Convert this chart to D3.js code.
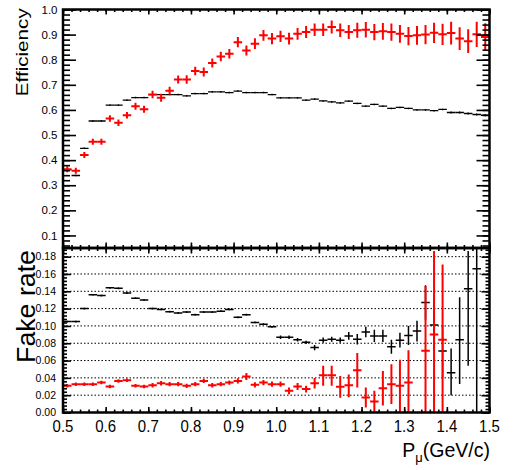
<!DOCTYPE html>
<html>
<head>
<meta charset="utf-8">
<script src="https://cdn.jsdelivr.net/npm/d3@7"></script>
<style>
  html, body { margin: 0; padding: 0; background: #fff; }
  svg { display: block; }
  text { font-family: "Liberation Sans", Arial, Helvetica, sans-serif; fill: #000; }
</style>
</head>
<body>
<svg id="chart" width="514" height="470"></svg>
<script>
// ---------------- DATA ----------------
const momentum = [0.51,0.53,0.55,0.57,0.59,0.61,0.63,0.65,0.67,0.69,
                  0.71,0.73,0.75,0.77,0.79,0.81,0.83,0.85,0.87,0.89,
                  0.91,0.93,0.95,0.97,0.99,1.01,1.03,1.05,1.07,1.09,
                  1.11,1.13,1.15,1.17,1.19,1.21,1.23,1.25,1.27,1.29,
                  1.31,1.33,1.35,1.37,1.39,1.41,1.43,1.45,1.47,1.49];
const binHalfWidth = 0.01;

// Efficiency (top panel)
const effBlack = [0.362,0.339,0.447,0.556,0.556,0.619,0.619,0.639,0.649,0.649,
                  0.661,0.661,0.661,0.661,0.656,0.665,0.665,0.672,0.672,0.669,
                  0.675,0.669,0.669,0.669,0.661,0.648,0.648,0.648,0.639,0.643,
                  0.636,0.632,0.628,0.635,0.626,0.615,0.622,0.615,0.606,0.610,
                  0.606,0.600,0.600,0.597,0.602,0.590,0.590,0.586,0.582,0.579];
const effBlackErr = [0.003,0.003,0.003,0.003,0.003,0.003,0.003,0.003,0.003,0.003,
                     0.003,0.003,0.003,0.003,0.003,0.003,0.003,0.003,0.003,0.003,
                     0.003,0.003,0.003,0.003,0.003,0.003,0.003,0.003,0.003,0.003,
                     0.003,0.003,0.003,0.003,0.003,0.003,0.003,0.003,0.003,0.003,
                     0.003,0.003,0.003,0.003,0.003,0.004,0.004,0.004,0.004,0.004];
const effRed = [0.364,0.358,0.420,0.473,0.473,0.566,0.549,0.579,0.615,0.603,
                0.661,0.648,0.676,0.721,0.721,0.755,0.751,0.787,0.813,0.824,
                0.870,0.837,0.864,0.897,0.884,0.893,0.884,0.903,0.910,0.919,
                0.919,0.930,0.917,0.910,0.917,0.919,0.910,0.913,0.910,0.903,
                0.894,0.897,0.900,0.907,0.901,0.906,0.884,0.874,0.901,0.890];
const effRedErr = [0.012,0.012,0.012,0.012,0.012,0.013,0.013,0.013,0.014,0.014,
                   0.015,0.015,0.016,0.016,0.017,0.017,0.018,0.018,0.019,0.019,
                   0.020,0.020,0.021,0.021,0.022,0.022,0.023,0.023,0.024,0.025,
                   0.025,0.026,0.027,0.028,0.030,0.031,0.032,0.033,0.034,0.035,
                   0.036,0.037,0.038,0.040,0.042,0.045,0.045,0.047,0.050,0.055];

// Fake rate (bottom panel)
const fakeBlack = [0.105,0.105,0.120,0.136,0.135,0.144,0.1435,0.138,0.132,0.130,
                   0.120,0.119,0.1165,0.115,0.116,0.113,0.116,0.116,0.117,0.119,
                   0.110,0.113,0.104,0.102,0.099,0.087,0.087,0.084,0.081,0.075,
                   0.0835,0.0846,0.0835,0.0885,0.0846,0.093,0.0885,0.0885,0.076,0.0835,
                   0.089,0.094,0.127,0.101,0.071,0.046,0.084,0.143,0.166,null];
const fakeBlackErrLo = [0.001,0.001,0.001,0.001,0.001,0.001,0.001,0.001,0.001,0.001,
                        0.001,0.001,0.001,0.001,0.001,0.001,0.001,0.001,0.001,0.001,
                        0.001,0.001,0.001,0.001,0.001,0.002,0.002,0.002,0.002,0.003,
                        0.003,0.003,0.003,0.0045,0.006,0.006,0.007,0.007,0.008,0.0085,
                        0.011,0.012,0.020,0.030,0.030,0.026,0.051,0.089,0.166,null];
const fakeBlackErrHi = [0.001,0.001,0.001,0.001,0.001,0.001,0.001,0.001,0.001,0.001,
                        0.001,0.001,0.001,0.001,0.001,0.001,0.001,0.001,0.001,0.001,
                        0.001,0.001,0.001,0.001,0.001,0.002,0.002,0.002,0.002,0.003,
                        0.003,0.003,0.003,0.0045,0.006,0.006,0.007,0.007,0.008,0.0085,
                        0.011,0.012,0.020,0.030,0.030,0.028,0.049,0.0435,0.100,null];
const fakeRed = [0.0308,0.0327,0.0327,0.0327,0.0346,0.030,0.0365,0.0373,0.0308,0.030,
                 0.0315,0.0338,0.0327,0.0327,0.0308,0.0327,0.0365,0.0315,0.0327,0.0346,
                 0.0365,0.0415,0.032,0.0346,0.0327,0.0327,0.025,0.030,0.027,0.0338,
                 0.043,0.043,0.0296,0.0315,0.0488,0.0173,0.0127,0.028,0.0327,0.0308,
                 0.0346,null,0.0712,0.090,0.084,null,null,null,null,null];
const fakeRedErrLo = [0.002,0.002,0.002,0.002,0.002,0.002,0.002,0.002,0.002,0.002,
                      0.0025,0.0025,0.0025,0.0025,0.0025,0.0025,0.0025,0.0025,0.0025,0.0025,
                      0.003,0.004,0.003,0.003,0.003,0.003,0.004,0.004,0.004,0.006,
                      0.012,0.012,0.0125,0.014,0.020,0.0115,0.0127,0.020,0.023,0.0308,
                      0.0346,null,0.0712,0.090,0.084,null,null,null,null,null];
const fakeRedErrHi = [0.002,0.002,0.002,0.002,0.002,0.002,0.002,0.002,0.002,0.002,
                      0.0025,0.0025,0.0025,0.0025,0.0025,0.0025,0.0025,0.0025,0.0025,0.0025,
                      0.003,0.004,0.003,0.003,0.003,0.003,0.004,0.004,0.004,0.006,
                      0.011,0.011,0.0125,0.0125,0.020,0.0115,0.0123,0.020,0.023,0.030,
                      0.0374,null,0.075,0.0965,0.087,null,null,null,null,null];

// Tick labels
const xTicks = [0.5,0.6,0.7,0.8,0.9,1.0,1.1,1.2,1.3,1.4,1.5];
const xTickLabels = ["0.5","0.6","0.7","0.8","0.9","1.0","1.1","1.2","1.3","1.4","1.5"];
const topYTicks = [0.1,0.2,0.3,0.4,0.5,0.6,0.7,0.8,0.9,1.0];
const topYTickLabels = ["0.1","0.2","0.3","0.4","0.5","0.6","0.7","0.8","0.9","1.0"];
const botYTicks = [0,0.02,0.04,0.06,0.08,0.10,0.12,0.14,0.16,0.18];
const botYTickLabels = ["0.00","0.02","0.04","0.06","0.08","0.10","0.12","0.14","0.16","0.18"];

// ---------------- LAYOUT ----------------
const svg = d3.select("#chart");
const L = 63, R = 489.5, T = 9.5, MID = 248, B = 412.5;

const x = d3.scaleLinear().domain([0.5, 1.5]).range([L, R]);
const yTop = d3.scaleLinear().domain([0.05, 1.0]).range([MID, T]);
const yBot = d3.scaleLinear().domain([0, 0.19]).range([B, MID]);

const round = v => Math.round(v * 10000) / 10000;
const xMinor = d3.range(0.5, 1.5001, 0.02).map(round);
const topYMinor = d3.range(0.06, 1.0001, 0.02).map(round);
const botYMinor = d3.range(0, 0.1901, 0.004).map(round);

// clip paths
const defs = svg.append("defs");
defs.append("clipPath").attr("id", "clipTop").append("rect")
  .attr("x", L).attr("y", T).attr("width", R - L).attr("height", MID - T);
defs.append("clipPath").attr("id", "clipBot").append("rect")
  .attr("x", L).attr("y", MID).attr("width", R - L).attr("height", B - MID);

// grid lines bottom panel
svg.append("g").selectAll("line").data(botYTicks.filter(v => v > 0)).join("line")
  .attr("x1", L).attr("x2", R)
  .attr("y1", d => yBot(d)).attr("y2", d => yBot(d))
  .attr("stroke", "#000").attr("stroke-width", 1)
  .attr("stroke-dasharray", "1.5,2");

// error-bar drawing
function drawSeries(clipId, yScale, vals, lo, hi, color, sw) {
  const g = svg.append("g").attr("clip-path", `url(#${clipId})`)
    .attr("stroke", color).attr("stroke-width", sw).attr("fill", "none");
  momentum.forEach((m, i) => {
    const v = vals[i];
    if (v === null || v === undefined) return;
    g.append("line")
      .attr("x1", x(m - binHalfWidth)).attr("x2", x(m + binHalfWidth))
      .attr("y1", yScale(v)).attr("y2", yScale(v));
    g.append("line")
      .attr("x1", x(m)).attr("x2", x(m))
      .attr("y1", yScale(v - lo[i])).attr("y2", yScale(v + hi[i]));
  });
}

drawSeries("clipTop", yTop, effBlack, effBlackErr, effBlackErr, "#000", 1.4);
drawSeries("clipTop", yTop, effRed, effRedErr, effRedErr, "#ff0000", 2);
drawSeries("clipBot", yBot, fakeBlack, fakeBlackErrLo, fakeBlackErrHi, "#000", 1.5);
drawSeries("clipBot", yBot, fakeRed, fakeRedErrLo, fakeRedErrHi, "#ff0000", 2);

// ticks using d3 axes
function ticks(axisFn, scale, values, size, tx, ty) {
  const g = svg.append("g").attr("transform", `translate(${tx},${ty})`)
    .call(axisFn(scale).tickValues(values).tickSize(size).tickFormat(""));
  g.select(".domain").remove();
  g.selectAll("line").attr("stroke", "#000").attr("stroke-width", 1.6);
  g.selectAll("text").remove();
}
// top panel
ticks(d3.axisLeft, yTop, topYTicks, -13, L, 0);
ticks(d3.axisLeft, yTop, topYMinor, -7, L, 0);
ticks(d3.axisRight, yTop, topYTicks, -13, R, 0);
ticks(d3.axisRight, yTop, topYMinor, -7, R, 0);
ticks(d3.axisTop, x, xTicks, -5, 0, T);
ticks(d3.axisTop, x, xMinor, -2.5, 0, T);
ticks(d3.axisBottom, x, xTicks, -5.5, 0, MID);
ticks(d3.axisBottom, x, xMinor, -3, 0, MID);
// bottom panel
ticks(d3.axisLeft, yBot, botYTicks, -8, L, 0);
ticks(d3.axisLeft, yBot, botYMinor, -4, L, 0);
ticks(d3.axisRight, yBot, botYTicks, -8, R, 0);
ticks(d3.axisRight, yBot, botYMinor, -4, R, 0);
ticks(d3.axisTop, x, xTicks, -5.5, 0, MID);
ticks(d3.axisTop, x, xMinor, -3, 0, MID);
ticks(d3.axisBottom, x, xTicks, -5.5, 0, B);
ticks(d3.axisBottom, x, xMinor, -3, 0, B);

// frames
svg.append("rect").attr("x", L).attr("y", T).attr("width", R - L).attr("height", MID - T)
  .attr("fill", "none").attr("stroke", "#000").attr("stroke-width", 2.5);
svg.append("rect").attr("x", L).attr("y", MID).attr("width", R - L).attr("height", B - MID)
  .attr("fill", "none").attr("stroke", "#000").attr("stroke-width", 2.5);

// tick labels
svg.append("g").selectAll("text").data(topYTicks).join("text")
  .attr("x", 57.5).attr("y", d => yTop(d)).attr("dy", "0.36em")
  .attr("text-anchor", "end").attr("font-size", 11.5)
  .text((d, i) => topYTickLabels[i]);

svg.append("g").selectAll("text").data(botYTicks).join("text")
  .attr("x", 56).attr("y", d => yBot(d)).attr("dy", "0.36em")
  .attr("text-anchor", "end").attr("font-size", 10.5)
  .text((d, i) => botYTickLabels[i]);

svg.append("g").selectAll("text").data(xTicks).join("text")
  .attr("transform", d => `translate(${x(d)},431.7) scale(1,1.15)`)
  .attr("text-anchor", "middle").attr("font-size", 15)
  .text((d, i) => xTickLabels[i]);

// axis titles
svg.append("text")
  .attr("transform", "translate(28.3,8.3) scale(1,1.29) rotate(-90)")
  .attr("text-anchor", "end").attr("font-size", 16)
  .text("Efficiency");

svg.append("text")
  .attr("transform", "translate(35,250) scale(1,1.07) rotate(-90)")
  .attr("text-anchor", "end").attr("font-size", 25)
  .text("Fake rate");

const xt = svg.append("text")
  .attr("x", 490).attr("y", 456.7)
  .attr("text-anchor", "end").attr("font-size", 19.5);
xt.append("tspan").text("P");
xt.append("tspan").attr("font-size", 13).attr("dy", 5).text("μ");
xt.append("tspan").attr("dy", -5).text("(GeV/c)");
</script>
</body>
</html>
